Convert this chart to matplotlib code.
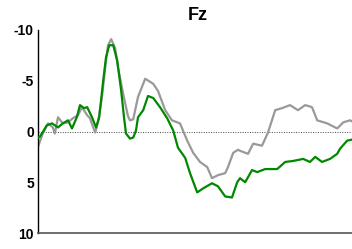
import matplotlib
matplotlib.use("Agg")
import matplotlib.pyplot as plt

green_t = [-100, -95, -78, -65, -50, -38, -25, -15, -3, 5, 15, 23, 35, 45, 53, 63, 70, 78, 88, 98,
           108, 115, 120, 130, 138, 145, 150, 163, 175, 188, 205, 223, 238, 250, 268, 280, 298, 313,
           335, 350, 368, 385, 398, 405, 418, 435, 448, 468, 485, 498, 518, 538, 563, 580, 593, 610,
           630, 648, 655, 673, 685]
green_v = [0.6, 0.5, -0.6, -0.8, -0.4, -0.8, -1.1, -0.3, -1.4, -2.6, -2.3, -2.4, -1.4, -0.4, -1.4,
           -5.0, -7.3, -8.5, -8.5, -7.0, -4.0, -1.4, 0.2, 0.7, 0.6, -0.1, -1.4, -2.1, -3.5, -3.3, -2.4,
           -1.3, -0.1, 1.6, 2.6, 4.1, 6.0, 5.6, 5.1, 5.4, 6.4, 6.5, 5.0, 4.6, 5.0, 3.8, 4.0, 3.7, 3.7,
           3.7, 3.0, 2.9, 2.7, 3.0, 2.5, 3.0, 2.7, 2.2, 1.7, 0.9, 0.8]

gray_t = [-100, -88, -75, -63, -58, -50, -38, -25, -13, 0, 10, 23, 30, 38, 43, 50, 60, 68, 75, 83,
          93, 100, 113, 125, 130, 138, 150, 168, 188, 200, 218, 235, 255, 273, 288, 305, 323, 335,
          350, 368, 375, 388, 400, 405, 425, 438, 460, 475, 493, 510, 530, 550, 568, 585, 598, 623,
          648, 663, 680, 685]
gray_v = [1.5, 0.2, -0.8, -0.4, 0.2, -1.4, -0.8, -0.9, -1.3, -1.6, -2.4, -1.6, -1.3, -0.4, 0.1,
          -0.9, -3.4, -6.3, -8.5, -9.1, -8.2, -6.3, -3.7, -1.5, -1.1, -1.2, -3.4, -5.2, -4.7, -4.0,
          -2.1, -1.1, -0.8, 0.9, 2.1, 3.0, 3.5, 4.6, 4.3, 4.1, 3.5, 2.1, 1.8, 1.9, 2.2, 1.2, 1.4, 0.1,
          -2.1, -2.3, -2.6, -2.1, -2.6, -2.4, -1.1, -0.8, -0.3, -0.9, -1.1, -1.0]

yticks = [-10, -5, 0, 5, 10]
title = "Fz"

plt.rcParams['font.family'] = ['Liberation Sans', 'DejaVu Sans']
fig = plt.figure(figsize=(3.52, 2.49), dpi=100)
ax = fig.add_axes([38/352, 16/249, 1 - 38/352, (233-30)/249])

ax.axhline(0, color='#444444', lw=0.7, ls=(0, (1, 1.5)), zorder=1)
ax.plot(gray_t, gray_v, color='#999999', lw=1.6, zorder=2)
ax.plot(green_t, green_v, color='#008800', lw=1.6, zorder=3)

ax.set_xlim(-100, 685)
ax.set_ylim(10, -10)
ax.set_yticks(yticks)
ax.set_yticklabels([str(v) for v in yticks], fontsize=10, fontweight='bold')
ax.set_xticks([])
ax.tick_params(axis='y', length=0, pad=3)
for s in ['top', 'right']:
    ax.spines[s].set_visible(False)
ax.spines['left'].set_color('black')
ax.spines['left'].set_linewidth(1.0)
ax.spines['bottom'].set_color('#555555')
ax.spines['bottom'].set_linewidth(1.2)
fig.text(198/352, 1 - 16/249, title, ha='center', va='center', fontsize=13, fontweight='bold')

fig.savefig('out.png', dpi=100)
